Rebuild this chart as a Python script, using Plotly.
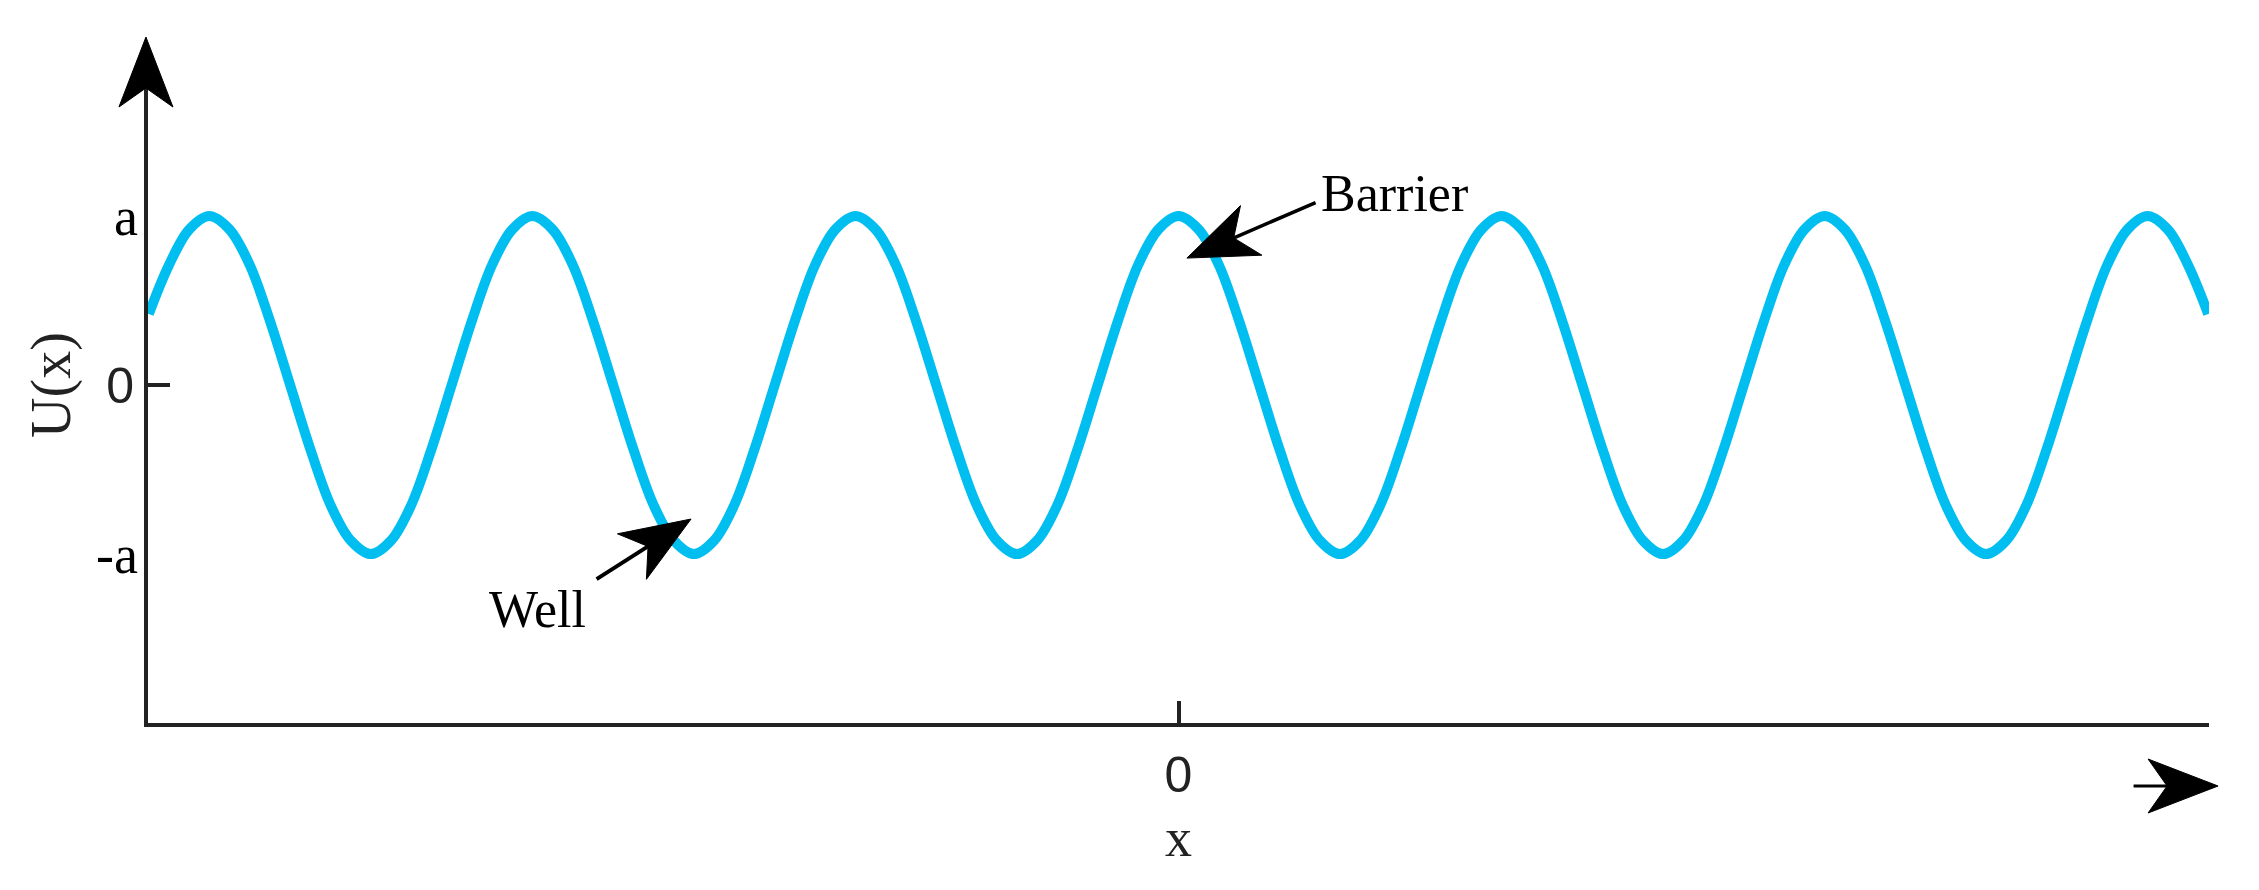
import math
import plotly.graph_objects as go

# x in units of one lattice period, U(x) in units of a
x_pos = [
    -3.1875, -3.125, -3.0625,
    -3.0, -2.9375, -2.875, -2.8125, -2.75, -2.6875, -2.625, -2.5625,
    -2.5, -2.4375, -2.375, -2.3125, -2.25, -2.1875, -2.125, -2.0625,
    -2.0, -1.9375, -1.875, -1.8125, -1.75, -1.6875, -1.625, -1.5625,
    -1.5, -1.4375, -1.375, -1.3125, -1.25, -1.1875, -1.125, -1.0625,
    -1.0, -0.9375, -0.875, -0.8125, -0.75, -0.6875, -0.625, -0.5625,
    -0.5, -0.4375, -0.375, -0.3125, -0.25, -0.1875, -0.125, -0.0625,
    0.0, 0.0625, 0.125, 0.1875, 0.25, 0.3125, 0.375, 0.4375,
    0.5, 0.5625, 0.625, 0.6875, 0.75, 0.8125, 0.875, 0.9375,
    1.0, 1.0625, 1.125, 1.1875, 1.25, 1.3125, 1.375, 1.4375,
    1.5, 1.5625, 1.625, 1.6875, 1.75, 1.8125, 1.875, 1.9375,
    2.0, 2.0625, 2.125, 2.1875, 2.25, 2.3125, 2.375, 2.4375,
    2.5, 2.5625, 2.625, 2.6875, 2.75, 2.8125, 2.875, 2.9375,
    3.0, 3.0625, 3.125, 3.1875,
]
u_vals = [
    0.42, 0.71, 0.92,
    1, 0.92, 0.71, 0.38, 0, -0.38, -0.71, -0.92,
    -1, -0.92, -0.71, -0.38, 0, 0.38, 0.71, 0.92,
    1, 0.92, 0.71, 0.38, 0, -0.38, -0.71, -0.92,
    -1, -0.92, -0.71, -0.38, 0, 0.38, 0.71, 0.92,
    1, 0.92, 0.71, 0.38, 0, -0.38, -0.71, -0.92,
    -1, -0.92, -0.71, -0.38, 0, 0.38, 0.71, 0.92,
    1, 0.92, 0.71, 0.38, 0, -0.38, -0.71, -0.92,
    -1, -0.92, -0.71, -0.38, 0, 0.38, 0.71, 0.92,
    1, 0.92, 0.71, 0.38, 0, -0.38, -0.71, -0.92,
    -1, -0.92, -0.71, -0.38, 0, 0.38, 0.71, 0.92,
    1, 0.92, 0.71, 0.38, 0, -0.38, -0.71, -0.92,
    -1, -0.92, -0.71, -0.38, 0, 0.38, 0.71, 0.92,
    1, 0.92, 0.71, 0.42,
]

y_zero_tick = [0]
y_zero_text = ['0']
y_level_ticks = [-1, 1]
y_level_text = ['-a', 'a']
x_ticks = [0]
x_tick_text = ['0']

X_RANGE = [-3.19, 3.19]
Y_RANGE = [-2, 2]

CURVE_BLUE = '#00BEF0'
AXIS_GREY = '#222222'
SERIF = 'Liberation Serif'
SANS = 'Liberation Sans'


def to_paper(x, y):
    px = (x - X_RANGE[0]) / (X_RANGE[1] - X_RANGE[0])
    py = (y - Y_RANGE[0]) / (Y_RANGE[1] - Y_RANGE[0])
    return px, py


def head_path(angle_deg, length=70, half=27, notch=51):
    # barbed arrow head, tip at the origin, pixel units (y up)
    pts = [(0, 0), (-length, half), (-notch, 0), (-length, -half)]
    c = math.cos(math.radians(angle_deg))
    s = math.sin(math.radians(angle_deg))
    rot = [(x * c - y * s, x * s + y * c) for x, y in pts]
    return 'M' + ' L'.join(f'{x:.1f},{y:.1f}' for x, y in rot) + ' Z'


def add_head(fig, xp, yp, angle_deg):
    fig.add_shape(
        type='path',
        xref='paper', yref='paper',
        xsizemode='pixel', ysizemode='pixel',
        xanchor=xp, yanchor=yp,
        path=head_path(angle_deg),
        fillcolor='black',
        line=dict(color='black', width=1),
        layer='above',
    )


fig = go.Figure()

fig.add_trace(
    go.Scatter(
        x=x_pos,
        y=u_vals,
        mode='lines',
        line=dict(color=CURVE_BLUE, width=10, shape='spline', smoothing=1),
        showlegend=False,
        hoverinfo='skip',
    )
)
# empty trace so the second y axis (a / -a labels) is drawn
fig.add_trace(go.Scatter(x=[], y=[], yaxis='y2', showlegend=False, hoverinfo='skip'))

fig.update_layout(
    width=2243,
    height=874,
    margin=dict(l=140, r=42, t=39, b=159),
    plot_bgcolor='white',
    paper_bgcolor='white',
    showlegend=False,
    xaxis=dict(
        range=X_RANGE,
        showgrid=False,
        zeroline=False,
        showline=True,
        linewidth=4,
        linecolor=AXIS_GREY,
        tickvals=x_ticks,
        ticktext=x_tick_text,
        ticks='inside',
        ticklen=22,
        tickwidth=4,
        tickcolor=AXIS_GREY,
        tickfont=dict(family=SANS, size=50, color=AXIS_GREY),
        ticklabelstandoff=5,
        title=dict(text='x', font=dict(family=SERIF, size=54, color=AXIS_GREY), standoff=17),
    ),
    yaxis=dict(
        range=Y_RANGE,
        showgrid=False,
        zeroline=False,
        showline=True,
        linewidth=4,
        linecolor=AXIS_GREY,
        tickvals=y_zero_tick,
        ticktext=y_zero_text,
        ticks='inside',
        ticklen=22,
        tickwidth=4,
        tickcolor=AXIS_GREY,
        tickfont=dict(family=SANS, size=50, color=AXIS_GREY),
        ticklabelstandoff=0,
        title=dict(text='U(x)', font=dict(family=SERIF, size=56, color=AXIS_GREY), standoff=19),
    ),
    yaxis2=dict(
        range=Y_RANGE,
        overlaying='y',
        side='left',
        anchor='x',
        showgrid=False,
        zeroline=False,
        showline=False,
        tickvals=y_level_ticks,
        ticktext=y_level_text,
        ticks='',
        tickfont=dict(family=SERIF, size=54, color='black'),
        ticklabelstandoff=9,
    ),
)

# y axis arrow head (the axis line is the shaft)
add_head(fig, -0.001, to_paper(X_RANGE[0], 2.059)[1], 90)

# x arrow below the axis
fig.add_annotation(x=1.0044, y=-0.0932, ax=-86, ay=0, xref='paper', yref='paper',
                   text='', showarrow=True, arrowhead=0, arrowwidth=3,
                   arrowcolor='black', standoff=45)
add_head(fig, 1.0044, -0.0932, 0)

# Barrier pointer
bar_tip = (0.026, 0.751)
bar_tail = (0.429, 1.083)
fig.add_annotation(x=bar_tip[0], y=bar_tip[1], ax=bar_tail[0], ay=bar_tail[1],
                   xref='x', yref='y', axref='x', ayref='y', text='', showarrow=True,
                   arrowhead=0, arrowwidth=3.5, arrowcolor='black', standoff=45)
add_head(fig, *to_paper(*bar_tip), math.degrees(math.atan2(-56, -130)))

# Well pointer
well_tip = (-1.509, -0.793)
well_tail = (-1.806, -1.154)
fig.add_annotation(x=well_tip[0], y=well_tip[1], ax=well_tail[0], ay=well_tail[1],
                   xref='x', yref='y', axref='x', ayref='y', text='', showarrow=True,
                   arrowhead=0, arrowwidth=4, arrowcolor='black', standoff=45)
add_head(fig, *to_paper(*well_tip), math.degrees(math.atan2(61, 96)))

fig.add_annotation(x=0.435, y=1.136, text='Barrier', showarrow=False, xanchor='left',
                   font=dict(family=SERIF, size=52, color='black'))
fig.add_annotation(x=-1.983, y=-1.331, text='Well', showarrow=False,
                   font=dict(family=SERIF, size=52, color='black'))

fig.write_html('out.html')
